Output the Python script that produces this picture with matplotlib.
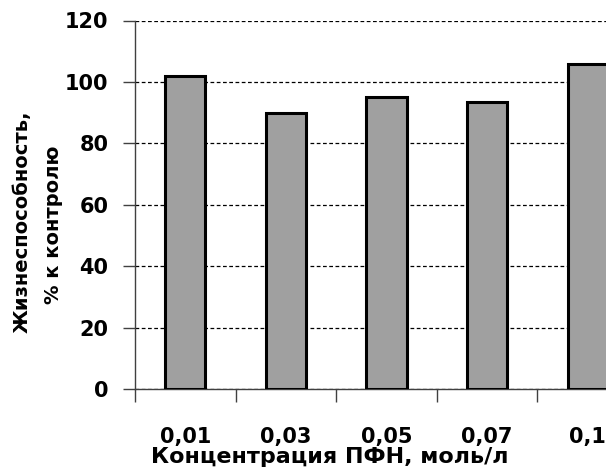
import matplotlib
matplotlib.use('Agg')
import matplotlib.pyplot as plt

# concentration labels and viability values (% of control)
conc = ['0,01', '0,03', '0,05', '0,07', '0,1']
viab = [102.0, 90.0, 95.2, 93.3, 105.7]

plt.rcParams['font.family'] = ['DejaVu Sans']
plt.rcParams['font.weight'] = 'bold'

fig = plt.figure(figsize=(6.06, 4.70), dpi=100)
ax = fig.add_axes([135/606, 1 - 389/470, 503/606, 368.5/470])

x = range(len(conc))
ax.bar(x, viab, width=0.4, color='#a0a0a0', edgecolor='black', linewidth=2.2, zorder=3)

ax.set_xlim(-0.5, len(conc) - 0.5)
ax.set_ylim(0, 120)
ax.set_yticks(range(0, 121, 20))
ax.yaxis.grid(True, color='black', linestyle=(0, (3, 2)), linewidth=0.9, zorder=0)

ax.set_xticks(list(x))
ax.set_xticklabels(conc, fontsize=15, fontweight='bold')
ax.tick_params(axis='x', which='major', length=0, pad=27)
ax.set_xticks([i - 0.5 for i in range(len(conc) + 1)], minor=True)
ax.tick_params(axis='x', which='minor', length=9, width=1, color='#404040')
ax.tick_params(axis='y', length=9, width=1, color='#404040', pad=10, labelsize=15)
for lab in ax.get_yticklabels():
    lab.set_fontweight('bold')

for s in ['top', 'right']:
    ax.spines[s].set_visible(False)
for s in ['left', 'bottom']:
    ax.spines[s].set_color('#404040')
    ax.spines[s].set_linewidth(1)

fig.text(330/606, 1 - 457/470, 'Концентрация ПФН, моль/л', ha='center', va='center',
         fontsize=16, fontweight='bold')
fig.text(22/606, 1 - 222/470, 'Жизнеспособность,', rotation=90, ha='center', va='center',
         fontsize=14, fontweight='bold')
fig.text(54/606, 1 - 225/470, '% к контролю', rotation=90, ha='center', va='center',
         fontsize=14, fontweight='bold')

fig.savefig('out.png', dpi=100)
